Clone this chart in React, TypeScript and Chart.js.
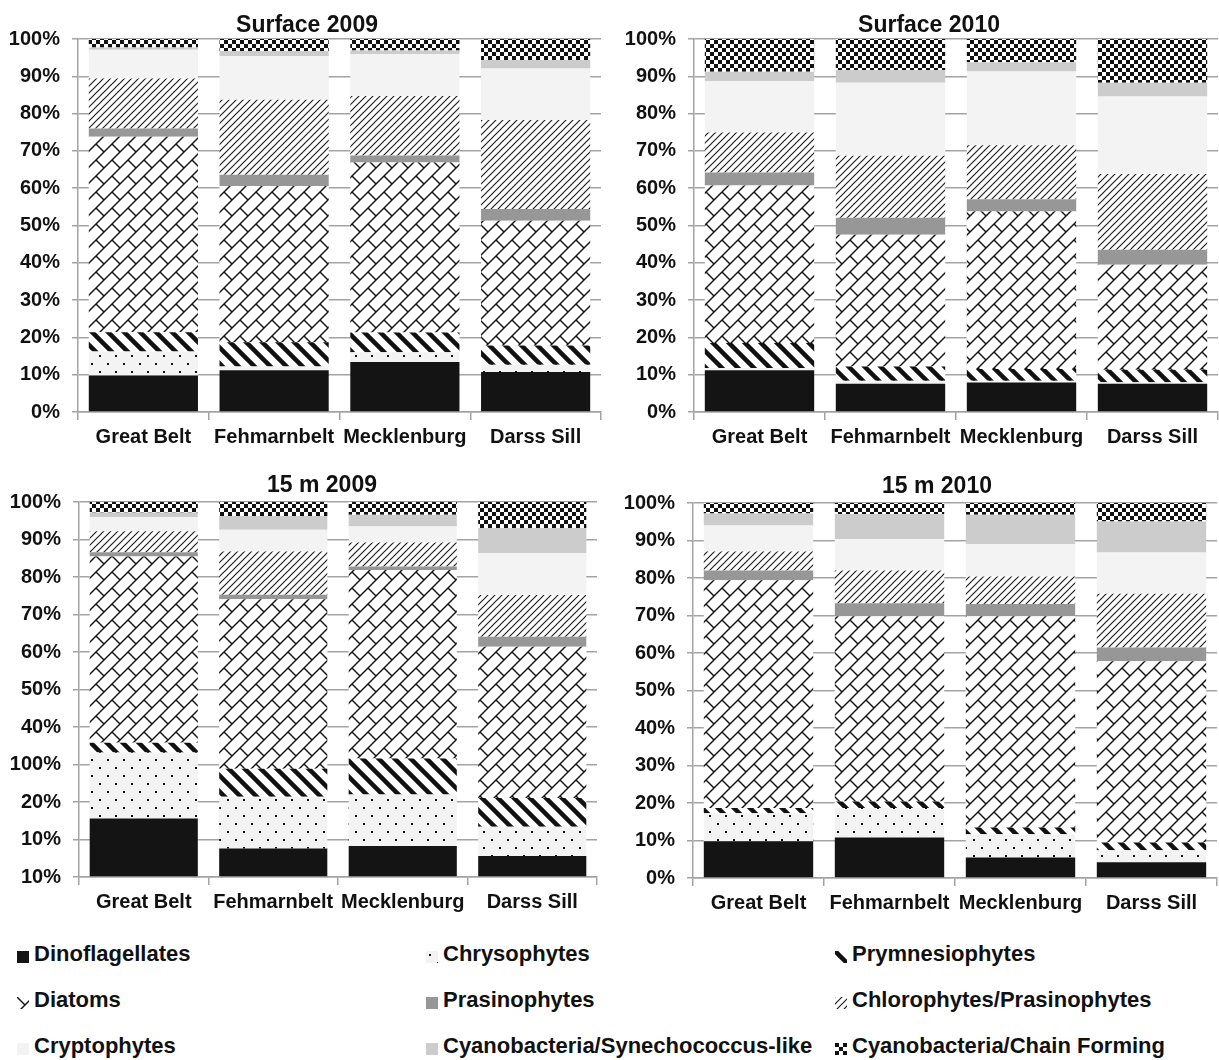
import React, { useEffect, useRef } from 'react';
import { Chart, registerables } from 'chart.js';

Chart.register(...registerables);

const sites = ['Great Belt', 'Fehmarnbelt', 'Mecklenburg', 'Darss Sill'];
const groups = [
  'Dinoflagellates',
  'Chrysophytes',
  'Prymnesiophytes',
  'Diatoms',
  'Prasinophytes',
  'Chlorophytes/Prasinophytes',
  'Cryptophytes',
  'Cyanobacteria/Synechococcus-like',
  'Cyanobacteria/Chain Forming',
];

// rows follow `groups`, columns follow `sites` (percent of total)
const surface2009 = [
  [9.8, 11.2, 13.4, 10.7],
  [6.4, 1.0, 2.6, 2.0],
  [5.2, 6.5, 5.3, 5.1],
  [52.4, 41.9, 45.6, 33.5],
  [2.2, 3.0, 1.9, 3.1],
  [13.4, 20.1, 15.9, 23.9],
  [7.7, 11.7, 11.3, 13.8],
  [0.6, 1.4, 0.9, 2.3],
  [2.3, 3.2, 3.1, 5.6],
];
const surface2010 = [
  [11.2, 7.6, 7.9, 7.6],
  [0.6, 0.8, 0.5, 0.4],
  [6.7, 3.8, 3.1, 3.3],
  [42.2, 35.3, 42.25, 28.2],
  [3.5, 4.6, 3.3, 4.0],
  [10.7, 16.6, 14.45, 20.3],
  [13.85, 19.6, 19.8, 20.8],
  [2.5, 3.4, 2.5, 3.7],
  [8.75, 8.3, 6.2, 11.7],
];
const depth2009 = [
  [15.6, 7.6, 8.3, 5.6],
  [17.6, 13.8, 13.7, 7.8],
  [2.6, 7.5, 9.6, 7.7],
  [49.7, 45.2, 50.3, 40.3],
  [1.1, 1.2, 0.9, 2.7],
  [5.6, 11.5, 6.4, 11.1],
  [3.8, 5.8, 4.3, 11.2],
  [1.2, 3.7, 3.1, 6.7],
  [2.8, 3.7, 3.4, 6.9],
];
const depth2010 = [
  [9.8, 10.8, 5.5, 4.2],
  [7.5, 7.9, 6.2, 3.2],
  [1.4, 1.7, 1.8, 2.1],
  [60.7, 49.4, 56.3, 48.3],
  [2.6, 3.5, 3.3, 3.7],
  [5.1, 8.7, 7.3, 14.3],
  [6.9, 8.4, 8.6, 11.0],
  [3.2, 6.7, 7.9, 8.3],
  [2.8, 2.9, 3.1, 4.9],
];

// y tick labels, bottom to top, as printed
const yTicksStandard = ['0%', '10%', '20%', '30%', '40%', '50%', '60%', '70%', '80%', '90%', '100%'];
const yTicks15m2009 = ['10%', '10%', '20%', '100%', '40%', '50%', '60%', '70%', '80%', '90%', '100%'];

const titles = ['Surface 2009', 'Surface 2010', '15 m 2009', '15 m 2010'];

const FONT = '"Liberation Sans", Arial, Helvetica, sans-serif';
const TEXT = '#111111';
const GRID = '#a3a3a3';

function tile(size: number, draw: (c: CanvasRenderingContext2D) => void) {
  const t = document.createElement('canvas');
  t.width = size;
  t.height = size;
  const c = t.getContext('2d')!;
  draw(c);
  return t;
}

function fillFor(ctx: CanvasRenderingContext2D, kind: number): string | CanvasPattern {
  switch (kind) {
    case 0:
      return '#141414';
    case 1: {
      const t = tile(16, (c) => {
        c.fillStyle = '#f3f3f3';
        c.fillRect(0, 0, 16, 16);
        c.fillStyle = '#111';
        c.fillRect(3, 3, 2, 2);
        c.fillRect(11, 11, 2, 2);
      });
      return ctx.createPattern(t, 'repeat')!;
    }
    case 2: {
      const t = tile(16, (c) => {
        c.fillStyle = '#ffffff';
        c.fillRect(0, 0, 16, 16);
        c.strokeStyle = '#111';
        c.lineWidth = 4.5;
        for (const o of [-16, 0, 16]) {
          c.beginPath();
          c.moveTo(o - 2, -2);
          c.lineTo(o + 18, 18);
          c.stroke();
        }
      });
      return ctx.createPattern(t, 'repeat')!;
    }
    case 3: {
      const t = tile(16, (c) => {
        c.fillStyle = '#ffffff';
        c.fillRect(0, 0, 16, 16);
        c.strokeStyle = '#111';
        c.lineWidth = 1.4;
        for (const k of [0, 16, 32]) {
          c.beginPath();
          c.moveTo(k + 2, -2);
          c.lineTo(k - 18, 18);
          c.stroke();
        }
        c.beginPath();
        c.moveTo(0, 0);
        c.lineTo(8, 8);
        c.stroke();
        c.beginPath();
        c.moveTo(16, 16);
        c.lineTo(17, 17);
        c.stroke();
      });
      return ctx.createPattern(t, 'repeat')!;
    }
    case 4:
      return '#979797';
    case 5: {
      const t = tile(7, (c) => {
        c.fillStyle = '#ffffff';
        c.fillRect(0, 0, 7, 7);
        c.strokeStyle = '#1e1e1e';
        c.lineWidth = 1.15;
        for (const k of [0, 7, 14]) {
          c.beginPath();
          c.moveTo(k + 2, -2);
          c.lineTo(k - 9, 9);
          c.stroke();
        }
      });
      return ctx.createPattern(t, 'repeat')!;
    }
    case 6:
      return '#f3f3f3';
    case 7:
      return '#cccccc';
    default: {
      const t = tile(8, (c) => {
        c.fillStyle = '#ffffff';
        c.fillRect(0, 0, 8, 8);
        c.fillStyle = '#111';
        c.fillRect(0, 0, 4, 4);
        c.fillRect(4, 4, 4, 4);
      });
      return ctx.createPattern(t, 'repeat')!;
    }
  }
}

type PanelCfg = {
  title: string;
  values: number[][];
  yLabels: string[];
  left: number;
  top: number;
  w: number;
  h: number;
  pad: { left: number; right: number; top: number; bottom: number };
  xAxisH: number;
  titleX: number;
  titleY: number;
};

const panels: PanelCfg[] = [
  { title: titles[0], values: surface2009, yLabels: yTicksStandard, left: 0, top: 0, w: 610, h: 460,
    pad: { left: 8, right: 9, top: 39, bottom: 0 }, xAxisH: 48, titleX: 307, titleY: 32 },
  { title: titles[1], values: surface2010, yLabels: yTicksStandard, left: 610, top: 0, w: 609, h: 460,
    pad: { left: 14, right: 1, top: 39, bottom: 0 }, xAxisH: 48, titleX: 319, titleY: 32 },
  { title: titles[2], values: depth2009, yLabels: yTicks15m2009, left: 0, top: 460, w: 610, h: 460,
    pad: { left: 9, right: 13, top: 42, bottom: 0 }, xAxisH: 43, titleX: 322, titleY: 32 },
  { title: titles[3], values: depth2010, yLabels: yTicksStandard, left: 610, top: 460, w: 609, h: 460,
    pad: { left: 13, right: 2, top: 43, bottom: 0 }, xAxisH: 42, titleX: 327, titleY: 33 },
];

function Panel({ cfg }: { cfg: PanelCfg }) {
  const ref = useRef<HTMLCanvasElement>(null);
  useEffect(() => {
    const canvas = ref.current!;
    const ctx = canvas.getContext('2d')!;
    const chart = new Chart(ctx, {
      type: 'bar',
      data: {
        labels: sites,
        datasets: groups.map((g, i) => ({
          label: g,
          data: cfg.values[i],
          backgroundColor: fillFor(ctx, i) as any,
          borderWidth: 0,
          barPercentage: 0.835,
          categoryPercentage: 1,
        })),
      },
      options: {
        animation: false,
        responsive: false,
        maintainAspectRatio: false,
        devicePixelRatio: 1,
        layout: { padding: cfg.pad },
        plugins: {
          legend: { display: false },
          tooltip: { enabled: false },
          title: { display: false },
        },
        scales: {
          x: {
            stacked: true,
            offset: true,
            grid: {
              display: true,
              drawOnChartArea: false,
              drawTicks: true,
              tickLength: 8,
              offset: true,
              color: GRID,
              lineWidth: 1.5,
            },
            border: { display: true, color: GRID, width: 1.5 },
            ticks: {
              font: { family: FONT, size: 20, weight: 'bold' },
              color: TEXT,
              padding: 5,
              maxRotation: 0,
              autoSkip: false,
            },
            afterFit: (s: any) => {
              s.height = cfg.xAxisH;
            },
          },
          y: {
            stacked: true,
            min: 0,
            max: 100,
            ticks: {
              stepSize: 10,
              font: { family: FONT, size: 20, weight: 'bold' },
              color: TEXT,
              padding: 12,
              callback: (_v: any, i: number) => cfg.yLabels[i],
            },
            grid: { color: GRID, lineWidth: 1.5, tickLength: 6, drawTicks: true },
            border: { display: true, color: GRID, width: 1.5 },
            afterFit: (s: any) => {
              s.width = 70;
            },
          },
        },
      },
      plugins: [
        {
          id: 'panelTitle',
          afterDraw(ch: any) {
            const c = ch.ctx as CanvasRenderingContext2D;
            c.save();
            c.font = `bold 23px ${FONT}`;
            c.fillStyle = TEXT;
            c.textAlign = 'center';
            c.textBaseline = 'alphabetic';
            c.fillText(cfg.title, cfg.titleX, cfg.titleY);
            c.restore();
          },
        },
      ],
    } as any);
    return () => chart.destroy();
  }, [cfg]);
  return (
    <canvas
      ref={ref}
      width={cfg.w}
      height={cfg.h}
      style={{ position: 'absolute', left: cfg.left, top: cfg.top, width: cfg.w, height: cfg.h }}
    />
  );
}

const legendColX = [17, 426, 835];
const legendRowTop = [951, 997, 1043];

function Swatch({ kind }: { kind: number }) {
  const ref = useRef<HTMLCanvasElement>(null);
  useEffect(() => {
    const c = ref.current!.getContext('2d')!;
    c.clearRect(0, 0, 12, 12);
    c.fillStyle = fillFor(c, kind) as any;
    c.fillRect(0, 0, 12, 12);
  }, [kind]);
  return <canvas ref={ref} width={12} height={12} style={{ position: 'absolute', left: 0, top: 0 }} />;
}

export default function App() {
  useEffect(() => {
    document.body.style.margin = '0';
    document.body.style.background = '#ffffff';
  }, []);
  return (
    <div style={{ position: 'relative', width: 1219, height: 1060, background: '#fff', overflow: 'hidden' }}>
      {panels.map((p, i) => (
        <Panel key={i} cfg={p} />
      ))}
      {groups.map((g, i) => {
        const col = i % 3;
        const row = Math.floor(i / 3);
        return (
          <div
            key={g}
            style={{ position: 'absolute', left: legendColX[col], top: legendRowTop[row], width: 400, height: 14 }}
          >
            <Swatch kind={i} />
            <span
              style={{
                position: 'absolute',
                left: 17,
                top: -8,
                font: `bold 22px/22px ${FONT}`,
                color: TEXT,
                whiteSpace: 'nowrap',
              }}
            >
              {g}
            </span>
          </div>
        );
      })}
    </div>
  );
}
